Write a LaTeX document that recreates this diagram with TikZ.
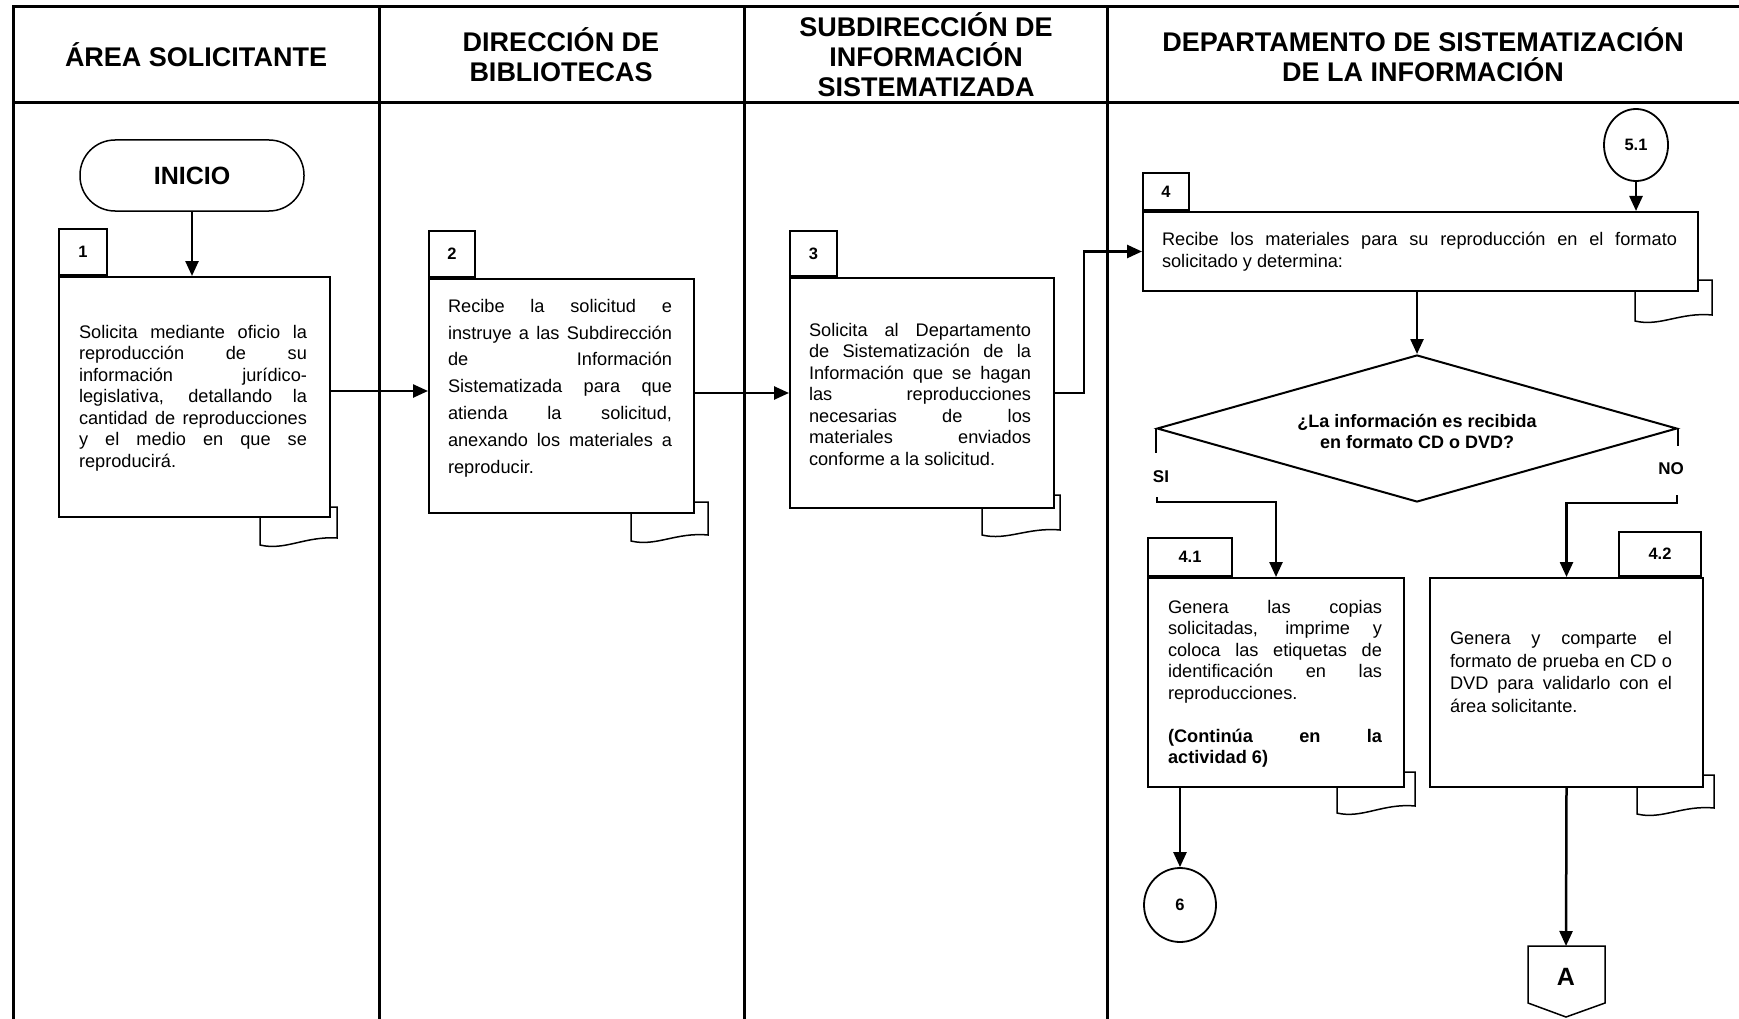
\documentclass[tikz,border=0pt]{standalone}
\usepackage{fontspec}
\setmainfont{Liberation Sans}
\usetikzlibrary{arrows.meta,shapes.geometric,calc}
\setlength{\parindent}{0pt}
\newcommand{\br}{\linebreak}
\begin{document}
\begin{tikzpicture}[x=1pt,y=-1pt,
  frame/.style={line width=3pt},
  box/.style={draw, line width=2pt, inner sep=0pt},
  tab/.style={draw, line width=2pt, inner sep=0pt, font=\bfseries\fontsize{16.5}{18}\selectfont},
  doc/.style={line width=1.5pt},
  arr/.style={line width=2.5pt, -{Triangle[length=15pt,width=13pt]}},
  ln/.style={line width=2.5pt},
  hdr/.style={align=center, inner sep=0pt, font=\bfseries\fontsize{27}{30}\selectfont},
  txt/.style={text width=#1, align=justify, inner sep=0pt,
     execute at begin node={\pretolerance=-1\tolerance=10000\hbadness=10000\hyphenpenalty=10000\emergencystretch=0pt}},
  conn/.style={draw, ellipse, line width=1.8pt, inner sep=0pt, font=\bfseries\fontsize{16.5}{18}\selectfont},
  lbl/.style={inner sep=0pt, font=\bfseries\fontsize{17}{20}\selectfont},
]
\useasboundingbox (0,0) rectangle (1739,1019);
\fill[white] (0,0) rectangle (1739,1019);

% frame
\draw[frame] (13,1019) -- (13,7) -- (1739,7);
\draw[frame] (13,103) -- (1739,103);
\draw[frame] (379,7) -- (379,1019);
\draw[frame] (744,7) -- (744,1019);
\draw[frame] (1107,7) -- (1107,1019);

% headers
\node[hdr] (h1) at (196,55) {ÁREA SOLICITANTE};
\node[hdr] (h2) at (561,55) {DIRECCIÓN DE\\BIBLIOTECAS};
\node[hdr] (h3) at (926,55) {SUBDIRECCIÓN DE\\INFORMACIÓN\\SISTEMATIZADA};
\node[hdr] (h4) at (1423,55) {DEPARTAMENTO DE SISTEMATIZACIÓN\\DE LA INFORMACIÓN};

% INICIO
\node[draw, line width=1.5pt, rounded corners=35pt, minimum width=224pt, minimum height=71pt,
      font=\bfseries\fontsize{25}{28}\selectfont] (ini) at (192,175.5) {INICIO};

% document icons
\draw[doc] (260,516) -- (260,545) .. controls (285,551) and (305,536) .. (337,538) -- (337,507) -- (329,507);
\draw[doc] (631,512) -- (631,541) .. controls (656,547) and (676,532) .. (708,535) -- (708,502) -- (693,502);
\draw[doc] (982,507) -- (982,535) .. controls (1007,541) and (1028,527) .. (1060,530) -- (1060,495) -- (1053,495);
\draw[doc] (1635,290) -- (1635,321) .. controls (1660,327) and (1680,312) .. (1712,315) -- (1712,280) -- (1697,280);
\draw[doc] (1337,786) -- (1337,813) .. controls (1362,819) and (1383,803) .. (1415,806) -- (1415,772) -- (1403,772);
\draw[doc] (1637,786) -- (1637,814) .. controls (1662,820) and (1682,805) .. (1714,808) -- (1714,775) -- (1702,775);

% boxes
\node[box, minimum width=271pt, minimum height=240pt, anchor=north west] (b1) at (58,276) {};
\node[tab, minimum width=48pt, minimum height=46pt, anchor=south west] (t1) at (58,276) {1};
\node[box, minimum width=265pt, minimum height=234pt, anchor=north west] (b2) at (428,278) {};
\node[tab, minimum width=46pt, minimum height=46pt, anchor=south west] (t2) at (428,278) {2};
\node[box, minimum width=264pt, minimum height=230pt, anchor=north west] (b3) at (789,277) {};
\node[tab, minimum width=47pt, minimum height=45pt, anchor=south west] (t3) at (789,277) {3};
\node[box, minimum width=555pt, minimum height=79pt, anchor=north west] (b4) at (1142,211) {};
\node[tab, minimum width=46pt, minimum height=37pt, anchor=south west] (t4) at (1142,211) {4};
\node[box, minimum width=256pt, minimum height=209pt, anchor=north west] (b41) at (1147,577) {};
\node[tab, minimum width=84pt, minimum height=38pt, anchor=south west] (t41) at (1147,577) {4.1};
\node[box, minimum width=273pt, minimum height=209pt, anchor=north west] (b42) at (1429,577) {};
\node[tab, minimum width=82pt, minimum height=44pt, anchor=south east] (t42) at (1702,577) {4.2};

% box texts
\node[txt=228pt, font=\fontsize{18.2}{21.5}\selectfont] (x1) at (193,398) {%
Solicita mediante oficio la\br reproducción de su\br información jurídico-\br legislativa, detallando la\br cantidad de reproducciones\br y el medio en que se\br reproducirá.};

\node[txt=224pt, font=\fontsize{18.2}{26.8}\selectfont] (x2) at (560,388) {%
Recibe la solicitud e\br instruye a las Subdirección\br de Información\br Sistematizada para que\br atienda la solicitud,\br anexando los materiales a\br reproducir.};

\node[txt=222pt, font=\fontsize{18.2}{21.5}\selectfont] (x3) at (920,394) {%
Solicita al Departamento\br de Sistematización de la\br Información que se hagan\br las reproducciones\br necesarias de los\br materiales enviados\br conforme a la solicitud.};

\node[txt=515pt, font=\fontsize{18.2}{22}\selectfont] (x4) at (1419.5,252) {%
Recibe los materiales para su reproducción en el formato\br solicitado y determina:};

\node[txt=214pt, font=\fontsize{18.2}{21.5}\selectfont] (x41) at (1275,684) {%
Genera las copias\br solicitadas, imprime y\br coloca las etiquetas de\br identificación en las\br reproducciones.\par\vspace{21.5pt}
\textbf{(Continúa en la\br actividad 6)}};

\node[txt=222pt, font=\fontsize{18.2}{22.7}\selectfont] (x42) at (1561,672) {%
Genera y comparte el\br formato de prueba en CD o\br DVD para validarlo con el\br área solicitante.};

% decision
\node[draw, diamond, line width=2pt, minimum width=520pt, minimum height=147pt, inner sep=0pt] (dec) at (1417,428.5) {};
\node[align=center, inner sep=0pt, font=\bfseries\fontsize{18}{21}\selectfont] (dect) at (1417,431) {¿La información es recibida\\en formato CD o DVD?};
\node[lbl] (si) at (1161,477) {SI};
\node[lbl] (no) at (1671,469) {NO};
\coordinate (siA) at (1157,497);
\coordinate (noA) at (1677,495);

% connectors
\node[conn, minimum width=64pt, minimum height=72pt] (c51) at (1636,145) {5.1};
\node[conn, minimum width=72pt, minimum height=74pt] (c6) at (1180,905) {6};
\coordinate (Atop) at (1566,946);
\draw[line width=1.5pt] (1528,946) -- (1605,946) -- (1605,1003) -- (1566,1017) -- (1528,1003) -- cycle;
\node[inner sep=0pt, font=\bfseries\fontsize{25}{28}\selectfont] (A) at (1566,977) {A};

% arrows
\draw[arr] (ini.south) -- (ini.south |- b1.north);
\draw[arr] ([yshift=6pt]b1.east) -- ([yshift=5pt]b2.west);
\draw[arr] ([yshift=3pt]b2.east) -- (b3.west);
\draw[arr] (b3.east) -- ++(29,0) |- (b4.west);
\draw[arr] (c51.south) -- (c51.south |- b4.north);
\draw[arr] (dec.north |- b4.south) -- (dec.north);
\draw[ln] (dec.west) -- ++(0,24);
\draw[ln] (dec.east) -- ++(0,17);
\draw[arr] (siA) -- ++(0,5) -| (b41.north);
\draw[arr] (noA) -- ++(0,8) -| (b42.north);
\draw[arr] (c6.north |- b41.south) -- (c6.north);
\draw[arr] (b42.south) -- (Atop);
\end{tikzpicture}
\end{document}
